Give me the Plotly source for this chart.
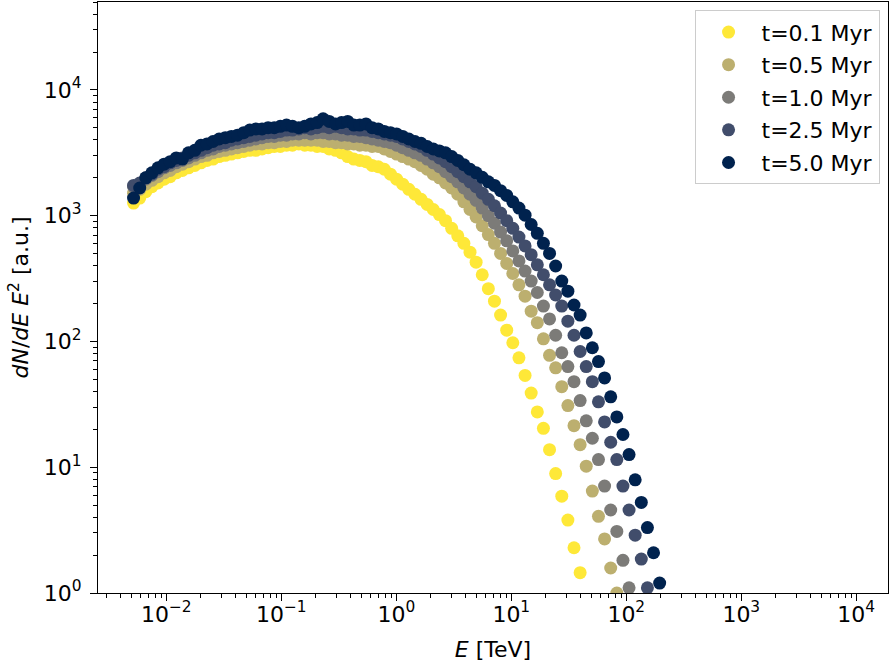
import plotly.graph_objects as go

# Energy bins [TeV]
energy = [
    0.00519, 0.00587, 0.00663, 0.00749, 0.00847, 0.00957, 0.0108, 0.0122, 0.0138, 0.0156,
    0.0177, 0.0200, 0.0226, 0.0255, 0.0288, 0.0326, 0.0368, 0.0416, 0.0471, 0.0532,
    0.0601, 0.0680, 0.0768, 0.0868, 0.0981, 0.111, 0.125, 0.142, 0.160, 0.181,
    0.205, 0.231, 0.261, 0.296, 0.334, 0.378, 0.427, 0.482, 0.545, 0.616,
    0.697, 0.787, 0.890, 1.006, 1.137, 1.285, 1.453, 1.642, 1.856, 2.098,
    2.371, 2.680, 3.030, 3.424, 3.871, 4.375, 4.945, 5.590, 6.318, 7.141,
    8.072, 9.125, 10.31, 11.66, 13.18, 14.89, 16.84, 19.03, 21.51, 24.31,
    27.48, 31.06, 35.11, 39.69, 44.86, 50.70, 57.31, 64.78, 73.22, 82.77,
    93.55, 105.7, 119.5, 135.1, 152.7, 172.6, 195.1,
]

flux_t01 = [
    1260, 1380, 1550, 1700, 1820, 1950, 2040, 2190, 2290, 2400,
    2510, 2630, 2750, 2820, 2950, 3020, 3090, 3160, 3240, 3310,
    3310, 3390, 3470, 3550, 3550, 3630, 3630, 3720, 3630, 3630,
    3550, 3550, 3390, 3310, 3160, 2950, 2820, 2750, 2690, 2510,
    2450, 2340, 2140, 1950, 1780, 1620, 1480, 1350, 1230, 1120,
    1020, 912, 794, 692, 603, 513, 427, 339, 263, 209,
    162, 123, 97.7, 74.1, 53.7, 38.9, 27.5, 20.4, 13.8, 8.91,
    5.89, 3.80, 2.29, 1.45,
]

flux_t05 = [
    1510, 1620, 1780, 1910, 2040, 2190, 2290, 2450, 2570, 2690,
    2820, 2950, 3020, 3160, 3240, 3310, 3390, 3470, 3550, 3630,
    3720, 3720, 3800, 3800, 3890, 3890, 3980, 3980, 3980, 3980,
    3980, 3890, 3890, 3800, 3800, 3720, 3720, 3630, 3630, 3550,
    3550, 3390, 3240, 3090, 2950, 2820, 2690, 2510, 2340, 2140,
    2000, 1820, 1660, 1480, 1290, 1120, 977, 832, 708, 603,
    501, 417, 347, 282, 229, 174, 141, 105, 77.6, 61.7,
    43.7, 30.9, 21.4, 15.1, 10.2, 6.46, 4.07, 2.69, 1.58, 1.00,
]

flux_t10 = [
    1700, 1780, 1950, 2090, 2240, 2400, 2510, 2630, 2750, 2880,
    3020, 3160, 3310, 3390, 3550, 3630, 3720, 3800, 3890, 3980,
    4070, 4170, 4270, 4270, 4370, 4370, 4470, 4470, 4570, 4470,
    4570, 4570, 4470, 4470, 4370, 4370, 4270, 4270, 4170, 4070,
    3980, 3890, 3800, 3630, 3470, 3310, 3160, 3020, 2820, 2630,
    2450, 2240, 2040, 1860, 1660, 1480, 1320, 1150, 1000, 871,
    741, 631, 525, 437, 363, 302, 245, 191, 151, 112,
    81.3, 63.1, 47.9, 33.9, 23.4, 17.0, 11.5, 7.08, 4.57, 3.09,
    1.82, 1.10,
]

flux_t25 = [
    1740, 1820, 2000, 2140, 2340, 2450, 2630, 2750, 2880, 3020,
    3160, 3310, 3470, 3630, 3720, 3800, 3980, 4070, 4170, 4270,
    4370, 4470, 4570, 4570, 4680, 4790, 4790, 4900, 5010, 4900,
    5010, 5130, 5010, 5130, 5010, 4900, 4900, 4790, 4790, 4680,
    4570, 4470, 4370, 4270, 4070, 3890, 3720, 3550, 3310, 3090,
    2880, 2690, 2450, 2240, 2040, 1860, 1700, 1510, 1350, 1200,
    1050, 912, 794, 676, 575, 490, 407, 339, 282, 234,
    191, 145, 112, 83.2, 63.1, 47.9, 33.1, 22.9, 15.8, 11.5,
    7.08, 4.57, 2.88, 1.86, 1.10,
]

flux_t50 = [
    1380, 1660, 2000, 2190, 2400, 2570, 2690, 2880, 2820, 3160,
    3310, 3630, 3720, 3890, 4070, 4170, 4270, 4370, 4570, 4790,
    4900, 4900, 5010, 5010, 5130, 5250, 5130, 5010, 5130, 5370,
    5500, 5890, 5620, 5370, 5500, 5620, 5250, 5250, 5370, 5010,
    4900, 4680, 4570, 4470, 4270, 4070, 3890, 3760, 3550, 3390,
    3270, 3160, 2950, 2750, 2540, 2340, 2190, 2020, 1860, 1740,
    1580, 1450, 1290, 1150, 1010, 851, 724, 603, 501, 398,
    302, 251, 195, 162, 117, 89.1, 69.2, 51.3, 36.3, 25.1,
    18.2, 12.6, 7.94, 5.25, 3.31, 2.09, 1.20,
]

labels = ["t=0.1 Myr", "t=0.5 Myr", "t=1.0 Myr", "t=2.5 Myr", "t=5.0 Myr"]
series = [flux_t01, flux_t05, flux_t10, flux_t25, flux_t50]
colors = ["#FEE838", "#BCAF6F", "#7C7B78", "#414D6B", "#00224E"]

# Tick labels
x_tick_vals = [0.01, 0.1, 1, 10, 100, 1000, 10000]
x_tick_text = ["10<sup>−2</sup>", "10<sup>−1</sup>", "10<sup>0</sup>", "10<sup>1</sup>",
               "10<sup>2</sup>", "10<sup>3</sup>", "10<sup>4</sup>"]
y_tick_vals = [1, 10, 100, 1000, 10000]
y_tick_text = ["10<sup>0</sup>", "10<sup>1</sup>", "10<sup>2</sup>", "10<sup>3</sup>",
               "10<sup>4</sup>"]

FONT = "DejaVu Sans"
FS = 22

fig = go.Figure()
for lab, ys, col in zip(labels, series, colors):
    fig.add_trace(go.Scatter(
        x=energy[:len(ys)], y=ys, mode="markers", name=lab,
        legendgroup=lab,
        marker=dict(size=13, color=col, line=dict(width=0)),
    ))

axis_common = dict(
    type="log",
    showline=True, linecolor="black", linewidth=1.3, mirror=True,
    ticks="outside", ticklen=7, tickwidth=1.3, tickcolor="black",
    showgrid=False, zeroline=False,
    tickfont=dict(family=FONT, size=FS, color="black"),
    minor=dict(ticks="outside", ticklen=4, tickwidth=1, tickcolor="black",
               dtick="D1", showgrid=False),
)

fig.update_layout(
    width=890, height=666, autosize=False,
    margin=dict(l=98, r=2, t=2, b=73),
    plot_bgcolor="white", paper_bgcolor="white",
    font=dict(family=FONT, size=FS, color="black"),
    xaxis=dict(axis_common, range=[-2.594, 4.276],
               tickmode="array", tickvals=x_tick_vals, ticktext=x_tick_text,
               ticklabelstandoff=-6,
               title=dict(text="<i>E</i> [TeV]", font=dict(family=FONT, size=FS), standoff=16)),
    yaxis=dict(axis_common, range=[0, 4.699],
               tickmode="array", tickvals=y_tick_vals, ticktext=y_tick_text,
               ticklabelstandoff=4,
               title=dict(text="<i>dN</i>/<i>dE</i> <i>E</i><sup>2</sup> [a.u.]",
                          font=dict(family=FONT, size=FS), standoff=8)),
    legend=dict(
        x=0.9893, y=0.986, xanchor="right", yanchor="top",
        bgcolor="rgba(255,255,255,0.8)", bordercolor="#cccccc", borderwidth=1,
        font=dict(family=FONT, size=FS, color="black"),
        tracegroupgap=1, itemwidth=56,
    ),
    showlegend=True,
)

fig.write_html("out.html")
